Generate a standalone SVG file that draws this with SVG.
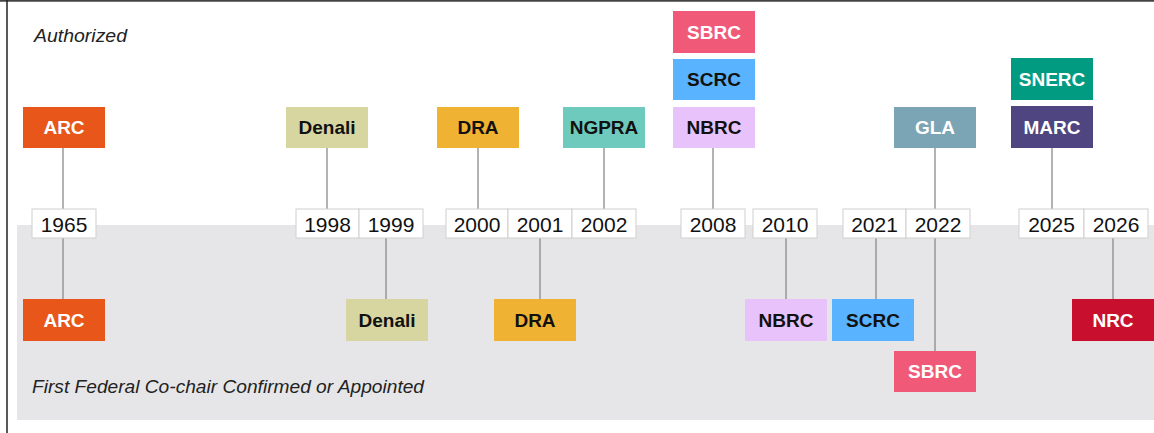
<svg xmlns="http://www.w3.org/2000/svg" width="1154" height="433" viewBox="0 0 1154 433">
<style>
.lab{font-family:"Liberation Sans",Arial,sans-serif;font-weight:bold;font-size:19px;text-anchor:middle}
.w{fill:#ffffff}.k{fill:#111111}
.yr{fill:#ffffff;stroke:#cfcfcf;stroke-width:1}
.yt{font-family:"Liberation Sans",Arial,sans-serif;font-size:21px;fill:#111111;text-anchor:middle}
.cap{font-family:"Liberation Sans",Arial,sans-serif;font-style:italic;font-size:19px;fill:#222222}
.ln{stroke:#8a8a8a;stroke-width:1.3;fill:none}
</style>
<rect x="0" y="0" width="1154" height="433" fill="#ffffff"/>
<rect x="17" y="225" width="1137" height="195" fill="#e6e6e8"/>
<line x1="0" y1="0.8" x2="1154" y2="0.8" stroke="#444444" stroke-width="1.8"/>
<line x1="7" y1="0" x2="7" y2="433" stroke="#222222" stroke-width="1.5"/>
<text class="cap" x="34" y="42" textLength="93" lengthAdjust="spacingAndGlyphs">Authorized</text>
<text class="cap" x="32" y="393" textLength="392" lengthAdjust="spacingAndGlyphs">First Federal Co-chair Confirmed or Appointed</text>
<g id="connectors">
<line class="ln" x1="63" y1="148" x2="63" y2="299"/>
<line class="ln" x1="327" y1="148" x2="327" y2="209"/>
<line class="ln" x1="386" y1="238" x2="386" y2="299"/>
<line class="ln" x1="478" y1="148" x2="478" y2="209"/>
<line class="ln" x1="540" y1="238" x2="540" y2="299"/>
<line class="ln" x1="604" y1="148" x2="604" y2="209"/>
<line class="ln" x1="713" y1="148" x2="713" y2="209"/>
<line class="ln" x1="786" y1="238" x2="786" y2="299"/>
<line class="ln" x1="876" y1="238" x2="876" y2="299"/>
<line class="ln" x1="935" y1="148" x2="935" y2="351"/>
<line class="ln" x1="1052" y1="148" x2="1052" y2="209"/>
<line class="ln" x1="1113" y1="238" x2="1113" y2="299"/>
</g>
<g id="years">
<g id="y1965"><rect class="yr" x="32" y="209" width="64" height="29"/><text class="yt" x="64" y="232">1965</text></g>
<g id="y1998"><rect class="yr" x="296" y="209" width="63" height="29"/><text class="yt" x="327.5" y="232">1998</text></g>
<g id="y1999"><rect class="yr" x="359" y="209" width="64" height="29"/><text class="yt" x="391" y="232">1999</text></g>
<g id="y2000"><rect class="yr" x="446" y="209" width="62" height="29"/><text class="yt" x="477" y="232">2000</text></g>
<g id="y2001"><rect class="yr" x="508" y="209" width="64" height="29"/><text class="yt" x="540" y="232">2001</text></g>
<g id="y2002"><rect class="yr" x="572" y="209" width="64" height="29"/><text class="yt" x="604" y="232">2002</text></g>
<g id="y2008"><rect class="yr" x="681" y="209" width="64" height="29"/><text class="yt" x="713" y="232">2008</text></g>
<g id="y2010"><rect class="yr" x="753" y="209" width="64" height="29"/><text class="yt" x="785" y="232">2010</text></g>
<g id="y2021"><rect class="yr" x="843" y="209" width="63" height="29"/><text class="yt" x="874.5" y="232">2021</text></g>
<g id="y2022"><rect class="yr" x="906" y="209" width="64" height="29"/><text class="yt" x="938" y="232">2022</text></g>
<g id="y2025"><rect class="yr" x="1019" y="209" width="65" height="29"/><text class="yt" x="1051.5" y="232">2025</text></g>
<g id="y2026"><rect class="yr" x="1084" y="209" width="64" height="29"/><text class="yt" x="1116" y="232">2026</text></g>
</g>
<g id="authorized">
<g id="a-arc"><rect x="23" y="107" width="82" height="41" fill="#e8561a"/><text class="lab w" x="64" y="134">ARC</text></g>
<g id="a-denali"><rect x="286" y="107" width="82" height="41" fill="#d8d6a0"/><text class="lab k" x="327" y="134">Denali</text></g>
<g id="a-dra"><rect x="437" y="107" width="82" height="41" fill="#f0b232"/><text class="lab k" x="478" y="134">DRA</text></g>
<g id="a-ngpra"><rect x="563" y="107" width="82" height="41" fill="#6ecabd"/><text class="lab k" x="604" y="134">NGPRA</text></g>
<g id="a-sbrc"><rect x="673" y="11" width="82" height="42" fill="#f05a78"/><text class="lab w" x="714" y="39">SBRC</text></g>
<g id="a-scrc"><rect x="673" y="59" width="82" height="41" fill="#5ab3ff"/><text class="lab k" x="714" y="86">SCRC</text></g>
<g id="a-nbrc"><rect x="673" y="107" width="82" height="41" fill="#e8c2fb"/><text class="lab k" x="714" y="134">NBRC</text></g>
<g id="a-gla"><rect x="894" y="107" width="82" height="41" fill="#7ba5b4"/><text class="lab w" x="935" y="134">GLA</text></g>
<g id="a-snerc"><rect x="1011" y="58" width="82" height="42" fill="#009b80"/><text class="lab w" x="1052" y="86">SNERC</text></g>
<g id="a-marc"><rect x="1011" y="106" width="82" height="42" fill="#4f4580"/><text class="lab w" x="1052" y="134">MARC</text></g>
</g>
<g id="appointed">
<g id="p-arc"><rect x="23" y="299" width="82" height="42" fill="#e8561a"/><text class="lab w" x="64" y="327">ARC</text></g>
<g id="p-denali"><rect x="346" y="299" width="82" height="42" fill="#d8d6a0"/><text class="lab k" x="387" y="327">Denali</text></g>
<g id="p-dra"><rect x="494" y="299" width="82" height="42" fill="#f0b232"/><text class="lab k" x="535" y="327">DRA</text></g>
<g id="p-nbrc"><rect x="745" y="299" width="82" height="42" fill="#e8c2fb"/><text class="lab k" x="786" y="327">NBRC</text></g>
<g id="p-scrc"><rect x="832" y="299" width="82" height="42" fill="#5ab3ff"/><text class="lab k" x="873" y="327">SCRC</text></g>
<g id="p-sbrc"><rect x="894" y="351" width="82" height="41" fill="#f05a78"/><text class="lab w" x="935" y="378">SBRC</text></g>
<g id="p-nrc"><rect x="1072" y="299" width="82" height="42" fill="#c8102e"/><text class="lab w" x="1113" y="327">NRC</text></g>
</g>
</svg>
